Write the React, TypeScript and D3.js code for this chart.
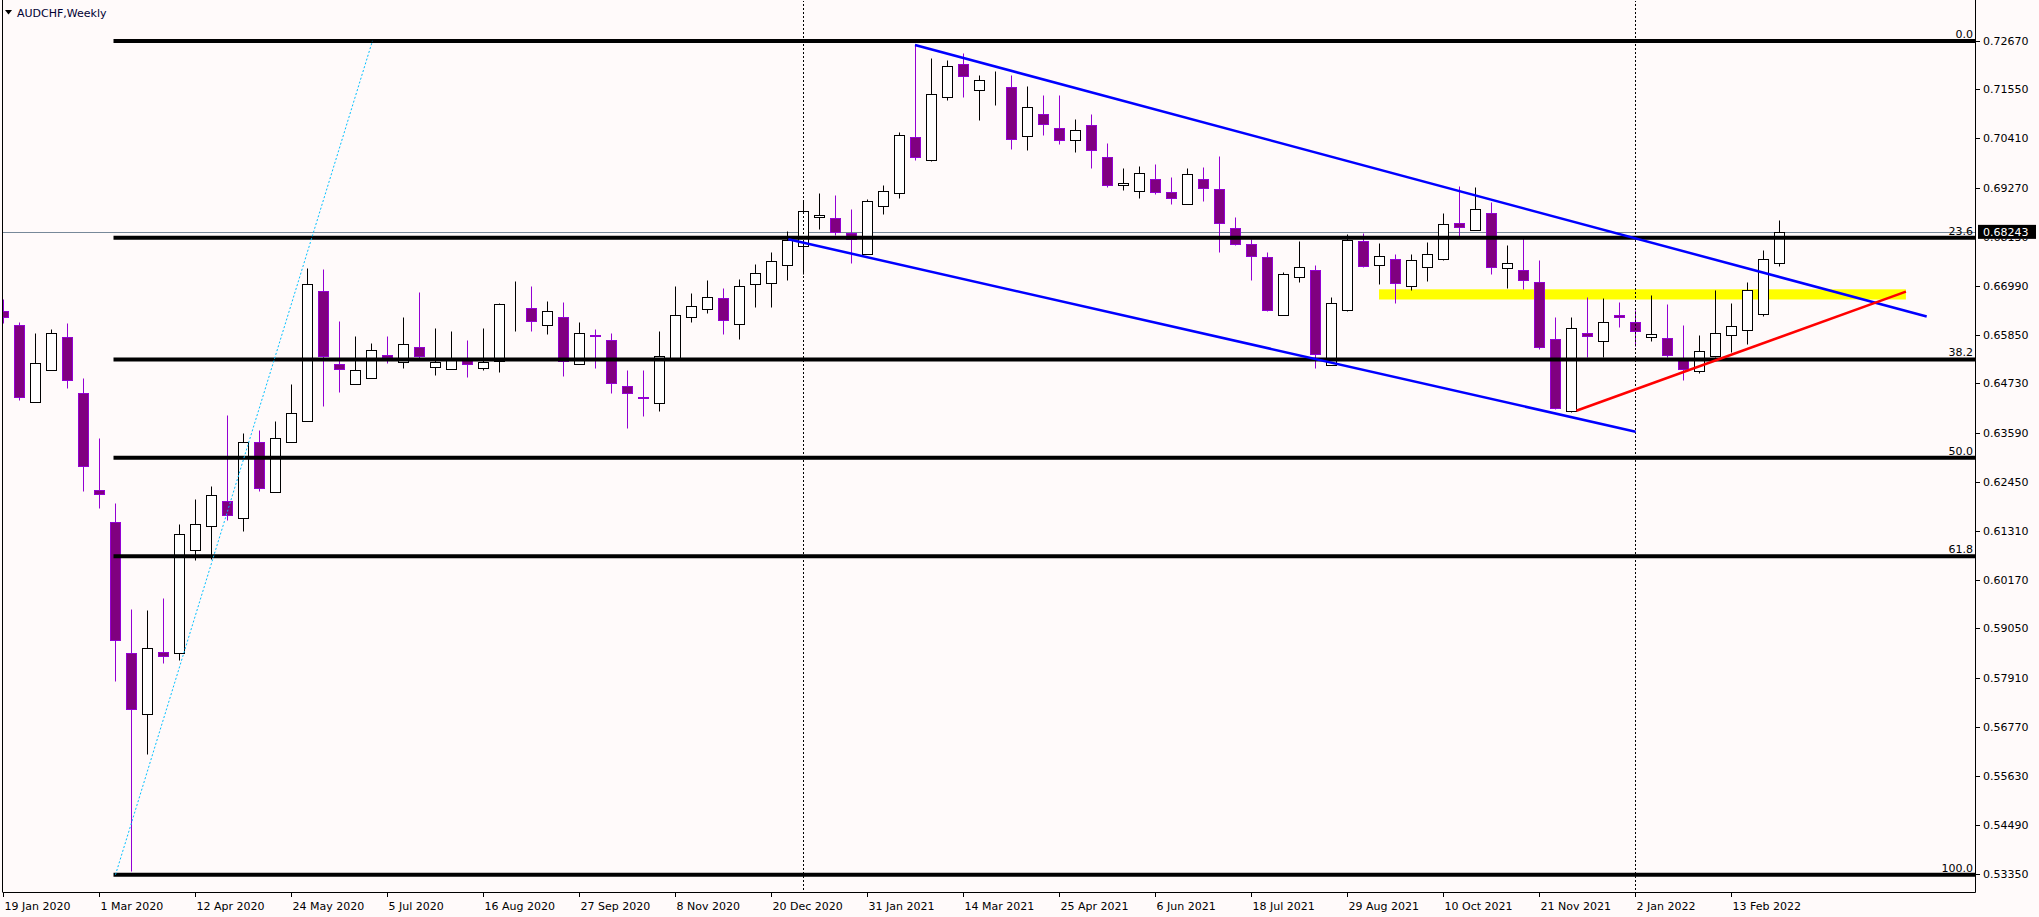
import React, { useEffect } from 'react';
import * as d3 from 'd3';

// ---------- DATA (AUDCHF weekly, bar 0 = 19 Jan 2020) ----------
const opens = [
  0.6642, 0.6608, 0.6429, 0.6503, 0.6580, 0.6450, 0.6225, 0.6151, 0.5847, 0.5706,
  0.5851, 0.5849, 0.6086, 0.6143, 0.6200, 0.6162, 0.6337, 0.6222, 0.6338, 0.6387,
  0.6687, 0.6517, 0.6471, 0.6485, 0.6540, 0.6522, 0.6557, 0.6510, 0.6506, 0.6529,
  0.6508, 0.6524, 0.6648, 0.6647, 0.6608, 0.6626, 0.6517, 0.6585, 0.6573, 0.6466,
  0.6441, 0.6427, 0.6533, 0.6626, 0.6645, 0.6670, 0.6610, 0.6703, 0.6705, 0.6747,
  0.6791, 0.6858, 0.6856, 0.6822, 0.6772, 0.6884, 0.6914, 0.7044, 0.6992, 0.7138,
  0.7213, 0.7154, 0.7158, 0.7159, 0.7047, 0.7097, 0.7064, 0.7037, 0.7071, 0.6997,
  0.6932, 0.6920, 0.6948, 0.6916, 0.6890, 0.6946, 0.6923, 0.6833, 0.6796, 0.6765,
  0.6631, 0.6719, 0.6737, 0.6515, 0.6644, 0.6802, 0.6747, 0.6761, 0.6698, 0.6744,
  0.6762, 0.6845, 0.6828, 0.6867, 0.6740, 0.6735, 0.6707, 0.6575, 0.6408, 0.6591,
  0.6571, 0.6632, 0.6615, 0.6580, 0.6578, 0.6531, 0.6502, 0.6537, 0.6585, 0.6596,
  0.6633, 0.6751,
];
const highs = [
  0.6669, 0.6616, 0.6590, 0.6599, 0.6612, 0.6485, 0.6346, 0.6195, 0.5951, 0.5947,
  0.5976, 0.6147, 0.6204, 0.6235, 0.6399, 0.6359, 0.6365, 0.6387, 0.6472, 0.6740,
  0.6738, 0.6618, 0.6582, 0.6567, 0.6582, 0.6627, 0.6685, 0.6601, 0.6594, 0.6574,
  0.6601, 0.6659, 0.6710, 0.6699, 0.6664, 0.6662, 0.6615, 0.6599, 0.6589, 0.6504,
  0.6504, 0.6594, 0.6699, 0.6683, 0.6713, 0.6694, 0.6715, 0.6750, 0.6778, 0.6826,
  0.6898, 0.6914, 0.6910, 0.6877, 0.6900, 0.6933, 0.7055, 0.7259, 0.7227, 0.7223,
  0.7239, 0.7188, 0.7197, 0.7188, 0.7162, 0.7142, 0.7142, 0.7086, 0.7097, 0.7030,
  0.6972, 0.6977, 0.6982, 0.6951, 0.6972, 0.6975, 0.7000, 0.6858, 0.6808, 0.6777,
  0.6731, 0.6803, 0.6747, 0.6673, 0.6819, 0.6822, 0.6798, 0.6773, 0.6772, 0.6801,
  0.6868, 0.6931, 0.6928, 0.6894, 0.6794, 0.6809, 0.6759, 0.6627, 0.6627, 0.6673,
  0.6671, 0.6662, 0.6643, 0.6678, 0.6657, 0.6608, 0.6585, 0.6690, 0.6659, 0.6708,
  0.6782, 0.6852,
];
const lows = [
  0.6612, 0.6434, 0.6429, 0.6503, 0.6463, 0.6224, 0.6184, 0.5784, 0.5342, 0.5615,
  0.5824, 0.5831, 0.6063, 0.6066, 0.6156, 0.6132, 0.6224, 0.6222, 0.6338, 0.6387,
  0.6421, 0.6454, 0.6471, 0.6485, 0.6521, 0.6509, 0.6527, 0.6492, 0.6506, 0.6489,
  0.6505, 0.6500, 0.6595, 0.6595, 0.6588, 0.6491, 0.6517, 0.6509, 0.6451, 0.6369,
  0.6398, 0.6410, 0.6533, 0.6616, 0.6637, 0.6588, 0.6577, 0.6651, 0.6651, 0.6713,
  0.6726, 0.6832, 0.6816, 0.6751, 0.6772, 0.6866, 0.6903, 0.6992, 0.6989, 0.7130,
  0.7138, 0.7084, 0.7119, 0.7017, 0.7015, 0.7049, 0.7028, 0.7009, 0.6973, 0.6929,
  0.6922, 0.6903, 0.6913, 0.6889, 0.6890, 0.6897, 0.6778, 0.6795, 0.6713, 0.6640,
  0.6631, 0.6709, 0.6509, 0.6515, 0.6642, 0.6744, 0.6704, 0.6660, 0.6689, 0.6711,
  0.6760, 0.6813, 0.6828, 0.6727, 0.6694, 0.6693, 0.6553, 0.6414, 0.6406, 0.6535,
  0.6535, 0.6604, 0.6559, 0.6572, 0.6535, 0.6481, 0.6498, 0.6535, 0.6546, 0.6564,
  0.6629, 0.6746,
];
const closes = [
  0.6626, 0.6441, 0.6521, 0.6591, 0.6481, 0.6281, 0.6217, 0.5877, 0.5718, 0.5859,
  0.5842, 0.6123, 0.6148, 0.6215, 0.6167, 0.6337, 0.6231, 0.6346, 0.6404, 0.6703,
  0.6537, 0.6506, 0.6503, 0.6550, 0.6535, 0.6564, 0.6537, 0.6522, 0.6529, 0.6517,
  0.6523, 0.6656, 0.6648, 0.6617, 0.6642, 0.6524, 0.6589, 0.6584, 0.6473, 0.6450,
  0.6440, 0.6536, 0.6631, 0.6652, 0.6673, 0.6619, 0.6698, 0.6728, 0.6756, 0.6805,
  0.6872, 0.6863, 0.6823, 0.6807, 0.6897, 0.6918, 0.7050, 0.6999, 0.7143, 0.7208,
  0.7186, 0.7176, 0.7158, 0.7040, 0.7113, 0.7075, 0.7038, 0.7060, 0.7013, 0.6934,
  0.6937, 0.6960, 0.6916, 0.6902, 0.6958, 0.6925, 0.6844, 0.6797, 0.6769, 0.6644,
  0.6726, 0.6742, 0.6542, 0.6659, 0.6805, 0.6746, 0.6769, 0.6706, 0.6758, 0.6772,
  0.6842, 0.6836, 0.6877, 0.6744, 0.6752, 0.6712, 0.6557, 0.6417, 0.6601, 0.6582,
  0.6615, 0.6626, 0.6594, 0.6587, 0.6540, 0.6506, 0.6547, 0.6589, 0.6605, 0.6689,
  0.6761, 0.68243,
];

// time axis labels (one every 6 bars, starting at bar 0)
const dateLabels = [
  '19 Jan 2020', '1 Mar 2020', '12 Apr 2020', '24 May 2020', '5 Jul 2020', '16 Aug 2020',
  '27 Sep 2020', '8 Nov 2020', '20 Dec 2020', '31 Jan 2021', '14 Mar 2021', '25 Apr 2021',
  '6 Jun 2021', '18 Jul 2021', '29 Aug 2021', '10 Oct 2021', '21 Nov 2021', '2 Jan 2022',
  '13 Feb 2022',
];
const dateLabelStep = 6;

const priceTicks = [
  0.72670, 0.71550, 0.70410, 0.69270, 0.68130, 0.66990, 0.65850, 0.64730, 0.63590,
  0.62450, 0.61310, 0.60170, 0.59050, 0.57910, 0.56770, 0.55630, 0.54490, 0.53350,
];

const currentPrice = 0.68243;
const yearSeparatorBars = [50, 102];

// Fibonacci retracement (anchors: bar index, price)
const fibLowBar = 7.0;
const fibLow = 0.5334;
const fibHighBar = 23.06;
const fibHigh = 0.7267;
const fibLevels = [0, 23.6, 38.2, 50, 61.8, 100];
const fibLabels = ['0.0', '23.6', '38.2', '50.0', '61.8', '100.0'];

// trend lines: [bar, price]
const channelUpper = [[56.97, 0.72575], [120.2, 0.66281]];
const channelLower = [[49.05, 0.68071], [102.01, 0.63610]];
const supportRed = [[98.3, 0.64097], [118.9, 0.66856]];
// yellow zone: [bar start, bar end], [price top, price bottom]
const zoneBars = [85.97, 118.9];
const zonePrices = [0.66911, 0.66675];

// ---------- LAYOUT ----------
const W = 2039;
const H = 917;
const plotRight = 1975;
const plotBottom = 892;
const FONT = '"DejaVu Sans", Verdana, sans-serif';

const x = d3.scaleLinear().domain([0, 1]).range([3.5, 19.5]);
const y = d3.scaleLinear().domain([0.5335, 0.7267]).range([874.3, 40.9]);

const BULL_STROKE = '#000000';
const BEAR_FILL = '#800080';
const BEAR_STROKE = '#9400d3';

const px = (v: number) => Math.round(v) + 0.5;

export default function App() {
  useEffect(() => {
    document.body.style.margin = '0';
    document.body.style.overflow = 'hidden';
  }, []);

  const candles = opens.map((o, i) => {
    const c = closes[i];
    const bull = c >= o;
    const cx = x(i);
    const top = px(y(Math.max(o, c)));
    const bot = px(y(Math.min(o, c)));
    const stroke = bull ? BULL_STROKE : BEAR_STROKE;
    return (
      <g key={i}>
        <line x1={cx} x2={cx} y1={px(y(highs[i]))} y2={px(y(lows[i]))} stroke={stroke} strokeWidth={1} />
        <rect x={cx - 5} y={top} width={10} height={Math.max(0, bot - top)}
          fill={bull ? '#ffffff' : BEAR_FILL} stroke={stroke} strokeWidth={1} />
      </g>
    );
  });

  const fibPrice = (lvl: number) => fibHigh - (lvl / 100) * (fibHigh - fibLow);

  const seg = (pts: number[][], color: string, w: number, key: string) => (
    <line key={key} x1={x(pts[0][0])} y1={y(pts[0][1])} x2={x(pts[1][0])} y2={y(pts[1][1])}
      stroke={color} strokeWidth={w} />
  );

  const cpY = y(currentPrice);

  return (
    <svg width={W} height={H} style={{ display: 'block', position: 'absolute', left: 0, top: 0 }}
      fontFamily={FONT}>
      <rect x={0} y={0} width={W} height={H} fill="#fffafa" />
      <defs>
        <clipPath id="plot">
          <rect x={3} y={1} width={plotRight - 3} height={plotBottom - 1} />
        </clipPath>
        <clipPath id="axisLabels">
          <rect x={plotRight + 1} y={0} width={W - plotRight} height={cpY - 7} />
          <rect x={plotRight + 1} y={cpY + 7} width={W - plotRight} height={H} />
        </clipPath>
      </defs>

      <g clipPath="url(#plot)">
        {/* support/resistance zone (background) */}
        <rect x={x(zoneBars[0])} y={y(zonePrices[0])} width={x(zoneBars[1]) - x(zoneBars[0])}
          height={y(zonePrices[1]) - y(zonePrices[0])} fill="#ffff00" />
        {/* current price line */}
        <line x1={0} x2={plotRight} y1={px(cpY)} y2={px(cpY)} stroke="#778899" strokeWidth={1} />

        {candles}

        {/* year separators */}
        {yearSeparatorBars.map((b) => (
          <line key={b} x1={x(b)} x2={x(b)} y1={0} y2={plotBottom} stroke="#000" strokeWidth={1}
            strokeDasharray="2 2" />
        ))}

        {/* fibonacci levels */}
        {fibLevels.map((lvl, i) => {
          const yy = y(fibPrice(lvl));
          return (
            <g key={lvl}>
              <line x1={x(fibLowBar) - 2} x2={plotRight} y1={yy} y2={yy} stroke="#000" strokeWidth={4} />
              <text x={plotRight - 2} y={yy - 3} textAnchor="end" fontSize={11} fill="#000">{fibLabels[i]}</text>
            </g>
          );
        })}
        <line x1={x(fibLowBar)} y1={y(fibLow)} x2={x(fibHighBar)} y2={y(fibHigh)}
          stroke="#00bfff" strokeWidth={1} strokeDasharray="2 2" />

        {seg(channelUpper, '#0000ff', 2.5, 'cu')}
        {seg(channelLower, '#0000ff', 2.5, 'cl')}
        {seg(supportRed, '#ff0000', 2.5, 'sr')}
      </g>

      {/* frame */}
      <line x1={2.5} x2={2.5} y1={0} y2={plotBottom} stroke="#000" />
      <line x1={plotRight + 0.5} x2={plotRight + 0.5} y1={0} y2={plotBottom + 0.5} stroke="#000" />
      <line x1={2.5} x2={plotRight + 0.5} y1={plotBottom + 0.5} y2={plotBottom + 0.5} stroke="#000" />

      {/* title */}
      <path d="M5,10 L12,10 L8.5,14.5 Z" fill="#000" />
      <text x={17} y={17} fontSize={11} fill="#000033">AUDCHF,Weekly</text>

      {/* price axis */}
      <g clipPath="url(#axisLabels)">
        {priceTicks.map((p) => (
          <g key={p}>
            <line x1={plotRight} x2={plotRight + 5} y1={px(y(p))} y2={px(y(p))} stroke="#000" />
            <text x={1983} y={y(p)} dy="0.36em" fontSize={11} fill="#000">{p.toFixed(5)}</text>
          </g>
        ))}
      </g>
      <rect x={1978} y={cpY - 7} width={58} height={14} fill="#000" />
      <text x={1983} y={cpY} dy="0.36em" fontSize={11} fill="#fff">{currentPrice.toFixed(5)}</text>

      {/* time axis */}
      {dateLabels.map((d, i) => {
        const xx = px(x(i * dateLabelStep)) - 1;
        return (
          <g key={d}>
            <line x1={xx} x2={xx} y1={plotBottom} y2={plotBottom + 5} stroke="#000" />
            <text x={xx + 1} y={910} fontSize={11} fill="#000">{d}</text>
          </g>
        );
      })}
    </svg>
  );
}
